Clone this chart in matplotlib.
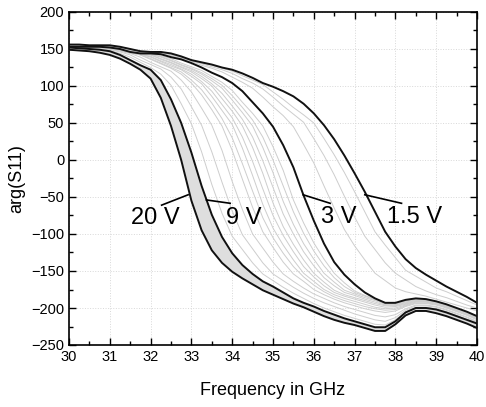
import numpy as np
import matplotlib
matplotlib.use("Agg")
import matplotlib.pyplot as plt
from matplotlib.ticker import MultipleLocator

plt.rcParams['font.family'] = ['Liberation Sans', 'DejaVu Sans']

# Frequency grid (GHz), 0.25 GHz steps from 30 to 40
freq = [30.0, 30.25, 30.5, 30.75, 31.0, 31.25, 31.5, 31.75, 32.0, 32.25,
        32.5, 32.75, 33.0, 33.25, 33.5, 33.75, 34.0, 34.25, 34.5, 34.75,
        35.0, 35.25, 35.5, 35.75, 36.0, 36.25, 36.5, 36.75, 37.0, 37.25,
        37.5, 37.75, 38.0, 38.25, 38.5, 38.75, 39.0, 39.25, 39.5, 39.75, 40.0]

# Highlighted (black) curves, arg(S11) in degrees
v20 = [149, 148, 147, 145, 142, 137, 130, 122, 110, 84, 46, 0, -55, -95, -122, -139, -151, -160, -168, -176,
       -182, -188, -194, -199, -205, -211, -216, -220, -223, -227, -231, -231, -222, -210, -204, -204, -207, -211,
       -216, -221, -227]
v9 = [152, 151, 150, 149, 147, 142, 135, 128, 122, 108, 82, 50, 10, -35, -74, -104, -126, -142, -154, -164,
      -171, -179, -187, -193, -198, -204, -209, -214, -218, -222, -226, -226, -218, -206, -200, -200, -202, -206,
      -211, -216, -221]
v3 = [153, 153, 153, 153, 152, 150, 146, 144, 144, 143, 139, 136, 131, 125, 118, 112, 104, 93, 78, 63,
      45, 20, -10, -48, -82, -113, -138, -155, -168, -179, -187, -193, -193, -189, -187, -188, -191, -195,
      -200, -205, -211]
v15 = [156, 156, 155, 155, 155, 153, 150, 147, 146, 146, 144, 140, 135, 132, 129, 125, 122, 117, 111, 104,
       99, 93, 86, 76, 63, 47, 28, 6, -18, -43, -70, -97, -117, -134, -146, -155, -163, -171, -178, -185, -193]

# Intermediate (grey) curves
g1 = [152, 151, 151, 150, 148, 144, 139, 132, 125, 116, 101, 76, 49, 11, -33, -72, -103, -121, -139, -154,
      -163, -172, -180, -187, -194, -200, -205, -210, -214, -218, -222, -223, -216, -205, -199, -199, -201,
      -205, -210, -215, -220]
g2 = [152, 152, 151, 151, 149, 146, 142, 135, 129, 123, 112, 96, 72, 47, 11, -30, -69, -101, -120, -139,
      -154, -163, -172, -180, -187, -193, -198, -203, -208, -212, -216, -218, -213, -203, -197, -197, -199,
      -203, -208, -213, -219]
g3 = [152, 152, 152, 151, 150, 147, 144, 139, 132, 126, 120, 108, 92, 70, 47, 13, -29, -67, -100, -119,
      -138, -154, -164, -173, -181, -187, -193, -198, -202, -206, -210, -212, -209, -201, -196, -196, -198,
      -202, -207, -212, -218]
g4 = [153, 152, 152, 152, 150, 148, 145, 142, 136, 130, 124, 116, 104, 88, 68, 46, 13, -26, -64, -97,
      -118, -138, -154, -164, -175, -182, -188, -193, -197, -201, -204, -206, -204, -198, -194, -194, -196,
      -200, -205, -210, -216]
g45 = [153, 152, 152, 152, 150, 148, 145, 142, 137, 131, 125, 119, 108, 95, 77, 56, 30, -5, -42, -78,
       -105, -126, -144, -158, -169, -178, -185, -190, -194, -198, -201, -203, -202, -197, -193, -193, -195,
       -199, -204, -209, -215]
g5 = [153, 153, 152, 152, 151, 148, 145, 143, 139, 133, 127, 122, 113, 103, 86, 67, 48, 16, -21, -60,
      -92, -115, -135, -153, -164, -175, -182, -187, -191, -195, -199, -201, -200, -196, -192, -192, -195,
      -199, -204, -209, -215]
g56 = [153, 153, 152, 152, 151, 148, 145, 143, 140, 134, 129, 123, 116, 106, 93, 75, 57, 31, -2, -39,
       -75, -102, -124, -144, -158, -170, -179, -184, -188, -192, -196, -199, -198, -195, -191, -191, -194,
       -198, -203, -208, -214]
g6 = [153, 153, 152, 152, 151, 149, 145, 143, 142, 136, 131, 125, 119, 110, 100, 83, 66, 46, 17, -18,
      -58, -90, -114, -135, -153, -165, -176, -182, -186, -190, -194, -197, -197, -194, -191, -191, -194,
      -198, -203, -208, -214]
g67 = [153, 153, 152, 152, 151, 149, 145, 143, 142, 137, 132, 126, 121, 113, 103, 90, 73, 55, 31, -1,
       -37, -73, -100, -124, -143, -159, -170, -179, -183, -188, -192, -196, -196, -193, -190, -190, -193,
       -197, -202, -207, -213]
g7 = [153, 153, 153, 153, 151, 149, 146, 144, 143, 139, 134, 128, 123, 116, 107, 97, 81, 64, 46, 17,
      -17, -56, -87, -113, -134, -153, -165, -176, -181, -186, -190, -195, -195, -192, -189, -190, -193,
      -197, -202, -207, -213]
g78 = [153, 153, 153, 153, 151, 149, 146, 144, 143, 140, 135, 129, 124, 118, 110, 101, 87, 71, 54, 31,
       0, -35, -70, -99, -123, -143, -159, -171, -179, -184, -189, -194, -194, -191, -188, -189, -192,
       -196, -201, -206, -212]
g8 = [153, 153, 153, 153, 152, 150, 146, 144, 144, 141, 137, 131, 126, 121, 113, 105, 94, 78, 63, 46,
      18, -14, -54, -85, -112, -134, -153, -166, -177, -183, -188, -193, -194, -190, -188, -189, -192,
      -196, -201, -206, -212]
h1 = [154, 154, 154, 154, 153, 151, 148, 145, 145, 144, 141, 137, 133, 128, 124, 119, 112, 105, 97, 85,
      72, 60, 45, 21, -4, -35, -65, -94, -116, -135, -153, -163, -173, -178, -181, -184, -188, -192, -196,
      -200, -204]
h2 = [155, 155, 154, 154, 154, 152, 149, 146, 145, 145, 142, 138, 134, 130, 126, 122, 117, 110, 104, 96,
      85, 73, 62, 51, 29, 6, -20, -49, -77, -103, -121, -139, -153, -162, -171, -177, -182, -186, -191,
      -196, -200]
h3 = [156, 156, 155, 155, 154, 153, 150, 147, 146, 146, 143, 139, 135, 131, 128, 124, 120, 114, 108, 102,
      92, 82, 71, 61, 50, 29, 7, -17, -43, -70, -97, -115, -132, -149, -157, -165, -173, -178, -184, -190,
      -196]

grey_curves = [g1, g2, g3, g4, g45, g5, g56, g6, g67, g7, g78, g8, h1, h2, h3]
black_curves = [v20, v9, v3, v15]

# Annotations: label, text position, leader start (label side), leader end (on curve)
labels = ["20 V", "9 V", "3 V", "1.5 V"]
label_xy = [(32.11, -79), (34.28, -79), (36.62, -77), (38.46, -77)]
leader_from = [(32.27, -61), (33.95, -58.5), (36.40, -58.5), (38.15, -58.5)]
leader_to = [(32.92, -47), (33.37, -54), (35.74, -47), (37.25, -47)]

fig = plt.figure(figsize=(4.86, 4.07), dpi=100)
ax = fig.add_axes([69 / 486, 1 - 345 / 407, 408 / 486, 333 / 407])

F = np.array(freq)
ax.fill_between(F, v20, v9, color='#dedede', lw=0, zorder=1)
for g in grey_curves:
    ax.plot(F, g, color='#cdcdcd', lw=0.7, zorder=2)
for b in black_curves:
    ax.plot(F, b, color='#111111', lw=1.4, zorder=3)

for lab, (tx, ty), (x0, y0), (x1, y1) in zip(labels, label_xy, leader_from, leader_to):
    ax.plot([x0, x1], [y0, y1], color='black', lw=1.2, zorder=4)
    ax.text(tx, ty, lab, fontsize=17, ha='center', va='center', zorder=5)

ax.set_xlim(30, 40)
ax.set_ylim(-250, 200)
ax.xaxis.set_major_locator(MultipleLocator(1))
ax.xaxis.set_minor_locator(MultipleLocator(0.5))
ax.yaxis.set_major_locator(MultipleLocator(50))
ax.yaxis.set_minor_locator(MultipleLocator(25))
ax.tick_params(which='both', direction='in', top=True, right=True, labelsize=10.5, colors='black')
ax.tick_params(which='major', length=5, width=1)
ax.tick_params(which='minor', length=3, width=1)
ax.grid(True, which='major', color='#d8d8d8', lw=0.7, ls=':')
ax.set_axisbelow(True)
for s in ax.spines.values():
    s.set_linewidth(1.2)

ax.set_xlabel("Frequency in GHz", fontsize=13, labelpad=13)
ax.set_ylabel("arg(S11)", fontsize=13, labelpad=4)

fig.savefig("out.png", dpi=100)
